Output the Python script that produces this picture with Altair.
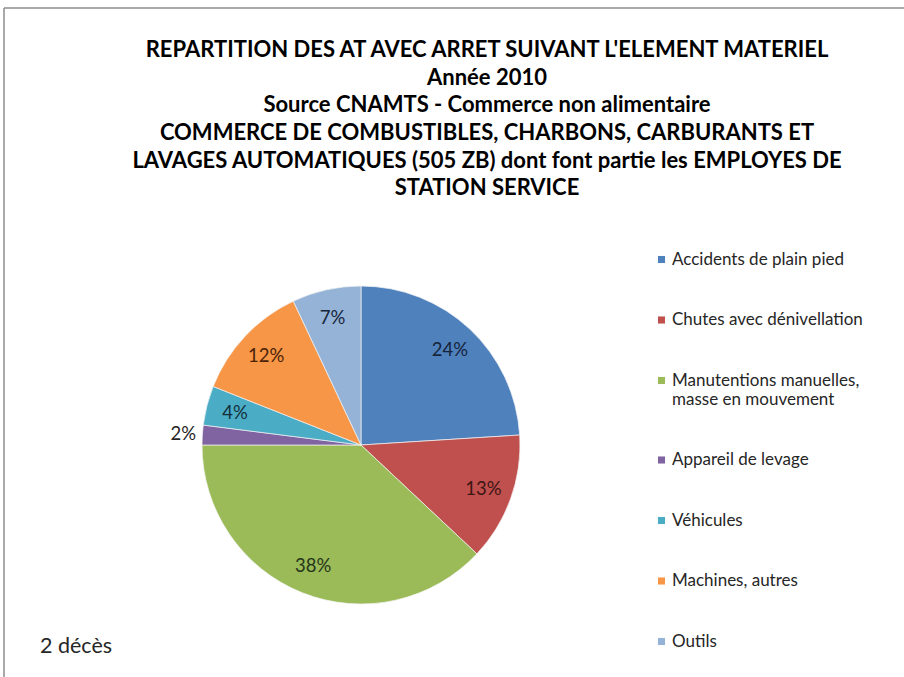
import altair as alt
import pandas as pd

categories = [
    "Accidents de plain pied",
    "Chutes avec dénivellation",
    "Manutentions manuelles, masse en mouvement",
    "Appareil de levage",
    "Véhicules",
    "Machines, autres",
    "Outils",
]
values = [24, 13, 38, 2, 4, 12, 7]
title_lines = [
    "REPARTITION DES AT AVEC ARRET SUIVANT L'ELEMENT MATERIEL",
    "Année 2010",
    "Source CNAMTS - Commerce non alimentaire",
    "COMMERCE DE COMBUSTIBLES, CHARBONS, CARBURANTS ET",
    "LAVAGES AUTOMATIQUES (505 ZB) dont font partie les EMPLOYES DE",
    "STATION SERVICE",
]
note = ["2 décès"]

slice_colors = ["#4F81BD", "#C0504D", "#9BBB59", "#8064A2", "#4BACC6", "#F79646", "#95B3D7"]
text_colors = ["#16243a", "#3d1514", "#26351a", "#222222", "#13303a", "#4a2208", "#16243a"]

df = pd.DataFrame({"category": categories, "value": values, "rank": list(range(len(categories)))})

FONT = "Lato"

base = alt.Chart(df).transform_calculate(
    inside="datum.value >= 3 ? datum.value + '%' : ''",
    outside="datum.value < 3 ? datum.value + '%' : ''",
)

pie = base.mark_arc(stroke="#f4f4f4", strokeWidth=0.7).encode(
    theta=alt.Theta("value:Q", stack=True),
    order=alt.Order("rank:Q"),
    color=alt.Color(
        "category:N",
        scale=alt.Scale(domain=categories, range=slice_colors),
        legend=alt.Legend(
            title=None,
            orient="none",
            legendX=451,
            legendY=-35,
            symbolType="square",
            symbolSize=50,
            symbolStrokeWidth=0,
            labelFont=FONT,
            labelFontSize=17,
            labelColor="#262626",
            labelLimit=300,
            rowPadding=42.5,
            labelOffset=2,
            padding=0,
            labelExpr="datum.label == 'Manutentions manuelles, masse en mouvement' ? ['Manutentions manuelles,', 'masse en mouvement'] : datum.label",
        ),
    ),
)

inside_text = base.mark_text(radius=130, font=FONT, fontSize=18.5).encode(
    theta=alt.Theta("value:Q", stack=True),
    order=alt.Order("rank:Q"),
    text="inside:N",
    color=alt.Color(
        "category:N",
        scale=alt.Scale(domain=categories, range=text_colors),
        legend=None,
    ),
)

outside_text = base.mark_text(radius=178, font=FONT, fontSize=18.5, color="#262626").encode(
    theta=alt.Theta("value:Q", stack=True),
    order=alt.Order("rank:Q"),
    text="outside:N",
)

note_text = alt.Chart(pd.DataFrame({"note": note})).mark_text(
    font=FONT, fontSize=21.5, align="left", baseline="middle", color="#262626"
).encode(text="note:N", x=alt.value(-162), y=alt.value(361))

border_top = alt.Chart(pd.DataFrame({"note": note})).mark_rule(color="#8c8c8c", strokeWidth=1.5).encode(
    x=alt.value(-198), x2=alt.value(720), y=alt.value(-278)
)
border_left = alt.Chart(pd.DataFrame({"note": note})).mark_rule(color="#8c8c8c", strokeWidth=1.5).encode(
    x=alt.value(-198), y=alt.value(-278), y2=alt.value(400)
)

chart = (
    alt.layer(border_top, border_left, pie, inside_text, outside_text, note_text)
    .resolve_scale(color="independent")
    .properties(
        width=318,
        height=318,
        background="white",
        autosize=alt.AutoSizeParams(type="none"),
        padding={"left": 202, "top": 286, "right": 384, "bottom": 73},
        title=alt.TitleParams(
            text=title_lines,
            font=FONT,
            fontSize=22,
            fontWeight="bold",
            color="#000000",
            anchor="middle",
            dx=126,
            offset=-193,
            lineHeight=27.6,
        ),
    )
    .configure_view(strokeWidth=0, stroke="transparent")
)

chart.save("out.html", embed_options={"renderer": "svg", "actions": False})
